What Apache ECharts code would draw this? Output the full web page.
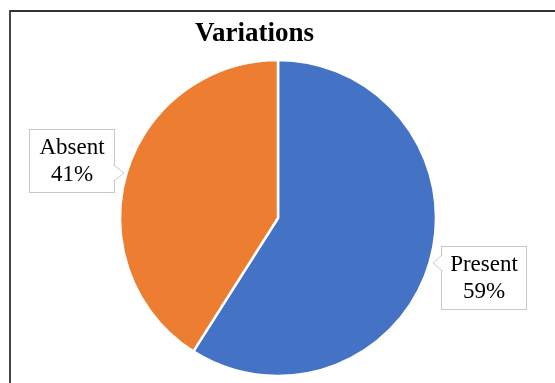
<!DOCTYPE html>
<html>
<head>
<meta charset="utf-8">
<script src="https://cdn.jsdelivr.net/npm/echarts@6/dist/echarts.min.js"></script>
<style>
  html, body { margin: 0; padding: 0; background: #fff; }
  #chart-container { width: 555px; height: 383px; }
</style>
</head>
<body>
<div id="chart-container"></div>
<script>
var categorias = ['Present', 'Absent'];
var porcentajes = [59, 41];
var colores = ['#4472C4', '#ED7D31'];

var dom = document.getElementById('chart-container');
var myChart = echarts.init(dom, null, {
  renderer: 'canvas',
  useDirtyRect: false
});

// posiciones de las cajas de etiqueta (centro)
var posEtiquetas = [[484, 278], [72, 161]];

var option = {
  animation: false,
  title: {
    text: 'Variations',
    left: 190,
    top: 16,
    textStyle: {
      color: '#000',
      fontFamily: 'Liberation Serif',
      fontSize: 27,
      fontWeight: 'bold'
    }
  },
  graphic: [
    {
      type: 'rect',
      shape: { x: 10, y: 11, width: 600, height: 420 },
      style: { fill: 'none', stroke: '#333', lineWidth: 1.8 },
      z: 100
    },
    // punteros de las cajas
    {
      type: 'polygon',
      shape: { points: [[114, 165], [124, 173], [114, 181]] },
      style: { fill: '#fff', stroke: '#c8c8c8', lineWidth: 1 },
      z: 100
    },
    {
      type: 'rect',
      shape: { x: 113, y: 166, width: 2, height: 14 },
      style: { fill: '#fff' },
      z: 101
    },
    {
      type: 'polygon',
      shape: { points: [[442, 255], [433, 263], [442, 271]] },
      style: { fill: '#fff', stroke: '#c8c8c8', lineWidth: 1 },
      z: 100
    },
    {
      type: 'rect',
      shape: { x: 441, y: 256, width: 2, height: 14 },
      style: { fill: '#fff' },
      z: 101
    }
  ],
  series: [
    {
      type: 'pie',
      center: [278, 218],
      radius: 158,
      startAngle: 90,
      clockwise: true,
      color: colores,
      data: categorias.map(function (nombre, i) {
        return { name: nombre, value: porcentajes[i] };
      }),
      itemStyle: {
        borderColor: '#fff',
        borderWidth: 2.5
      },
      label: {
        show: true,
        formatter: '{b}\n{c}%',
        fontFamily: 'Liberation Serif',
        fontSize: 23,
        lineHeight: 27,
        color: '#000',
        align: 'center',
        backgroundColor: '#fff',
        borderColor: '#c8c8c8',
        borderWidth: 1,
        width: 84,
        height: 54,
        padding: [4, 0, 4, 0]
      },
      labelLine: { show: false },
      labelLayout: function (params) {
        var p = posEtiquetas[params.dataIndex];
        return { x: p[0], y: p[1], align: 'center', verticalAlign: 'middle' };
      },
      emphasis: { disabled: true }
    }
  ]
};

myChart.setOption(option);

window.addEventListener('resize', () => {
  myChart.resize();
});
</script>
</body>
</html>
